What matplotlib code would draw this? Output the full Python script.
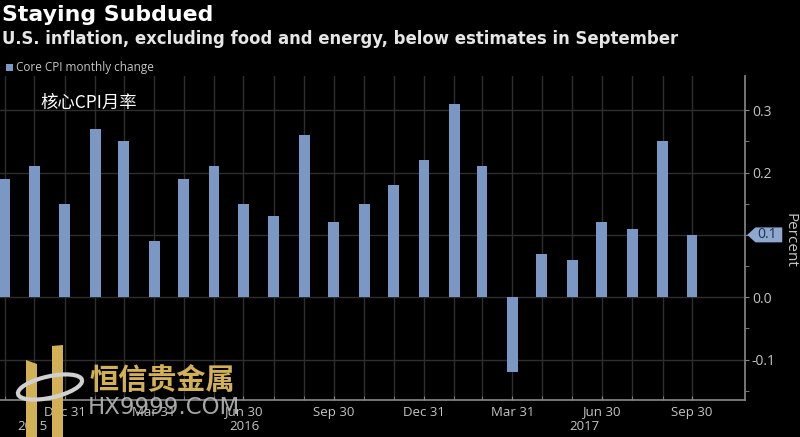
import matplotlib
matplotlib.use('Agg')
import matplotlib.pyplot as plt
import matplotlib.dates as mdates
import pandas as pd
from matplotlib.patches import Polygon, Ellipse, Rectangle

# ---------------- data ----------------
months = ['2015-10', '2015-11', '2015-12', '2016-01', '2016-02', '2016-03',
          '2016-04', '2016-05', '2016-06', '2016-07', '2016-08', '2016-09',
          '2016-10', '2016-11', '2016-12', '2017-01', '2017-02', '2017-03',
          '2017-04', '2017-05', '2017-06', '2017-07', '2017-08', '2017-09']
core_cpi = [0.19, 0.21, 0.15, 0.27, 0.25, 0.09,
            0.19, 0.21, 0.15, 0.13, 0.26, 0.12,
            0.15, 0.18, 0.22, 0.31, 0.21, -0.12,
            0.07, 0.06, 0.12, 0.11, 0.25, 0.10]
xtick_dates = ['2015-12-31', '2016-03-31', '2016-06-30', '2016-09-30',
               '2016-12-31', '2017-03-31', '2017-06-30', '2017-09-30']
xtick_labels = ['Dec 31', 'Mar 31', 'Jun 30', 'Sep 30',
                'Dec 31', 'Mar 31', 'Jun 30', 'Sep 30']
years = ['2015', '2016', '2017']
yticks = [-0.1, 0.0, 0.1, 0.2, 0.3]
ytick_labels = ['-0.1', '0.0', '', '0.2', '0.3']
last_label = '0.1'

title = 'Staying Subdued'
subtitle = 'U.S. inflation, excluding food and energy, below estimates in September'
legend_label = 'Core CPI monthly change'
annotation_cn = '核心CPI月率'
watermark_cn = '恒信贵金属'
watermark_en = 'HX9999.COM'

# ---------------- style ----------------
W, H = 800, 437
BG = '#000000'
BAR = '#7b97c3'
GRID = '#2e2e2e'
TXT = '#c4c4c4'
FONT = ['Open Sans', 'DejaVu Sans']
CJK = ['Noto Sans CJK SC', 'DejaVu Sans']
plt.rcParams['font.family'] = FONT

dates = pd.to_datetime(months) + pd.offsets.MonthEnd(0)

fig = plt.figure(figsize=(W / 100, H / 100), dpi=100, facecolor=BG)
ax = fig.add_axes([0, 1 - 400 / H, 745 / W, (400 - 76) / H], facecolor=BG)

ax.bar(dates, core_cpi, width=11, color=BAR, zorder=3)

ax.set_xlim(pd.Timestamp('2015-10-26'), pd.Timestamp('2017-11-23'))
ax.set_ylim(-0.165, 0.355)

# grid
ax.set_xticks(dates, minor=True)
ax.set_xticks(pd.to_datetime(xtick_dates))
ax.set_xticklabels(xtick_labels)
ax.set_yticks(yticks)
ax.set_yticklabels(ytick_labels)
ax.set_yticks([-0.15, -0.05, 0.05, 0.15, 0.25], minor=True)
ax.grid(True, which='both', axis='x', color=GRID, lw=1, zorder=0)
ax.grid(True, which='major', axis='y', color=GRID, lw=1, zorder=0)

ax.yaxis.tick_right()
for s in ['top', 'left']:
    ax.spines[s].set_visible(False)
for s in ['bottom', 'right']:
    ax.spines[s].set_color('#8a8a8a')
    ax.spines[s].set_linewidth(1.2)
ax.tick_params(axis='x', which='both', direction='in', length=3, color='#8a8a8a',
               labelcolor=TXT, labelsize=9.5, pad=4)
ax.tick_params(axis='y', which='both', direction='out', length=3, color='#8a8a8a',
               labelcolor=TXT, labelsize=10, pad=2)

# year labels centred on visible year spans
xl = ax.get_xlim()
for y in years:
    a = max(mdates.date2num(pd.Timestamp(f'{int(y) - 1}-12-31')), xl[0])
    b = min(mdates.date2num(pd.Timestamp(f'{y}-12-31')), xl[1])
    ax.text((a + b) / 2, -0.083, y, transform=ax.get_xaxis_transform(),
            ha='center', va='center', color=TXT, fontsize=9.5, clip_on=False)

# last value callout on the right axis
yv = core_cpi[-1]
tr = ax.get_yaxis_transform()
hh = 0.012
poly = Polygon([(1.003, yv), (1.014, yv + hh), (1.05, yv + hh),
                (1.05, yv - hh), (1.014, yv - hh)], closed=True,
               transform=tr, facecolor='#8ea8d0', edgecolor='none',
               clip_on=False, zorder=6)
ax.add_patch(poly)
ax.text(1.03, yv, last_label, transform=tr, ha='center', va='center',
        color='#1d3050', fontsize=10, zorder=7, clip_on=False)

fig.text(790 / W, 1 - 240 / H, 'Percent', rotation=270, ha='center', va='center',
         color=TXT, fontsize=11)

# titles and legend
fig.text(2 / W, 1 - 15 / H, title, color='white', fontsize=15.8, fontweight='bold',
         family=['DejaVu Sans'], ha='left', va='center')
fig.text(2 / W, 1 - 39 / H, subtitle, color='#e6e6e6', fontsize=11.9,
         fontweight='bold', family=['DejaVu Sans'], ha='left', va='center')
fig.patches.append(Rectangle((6 / W, 1 - 71 / H), 7 / W, 7 / H, transform=fig.transFigure,
                             facecolor=BAR, edgecolor='none'))
fig.text(16 / W, 1 - 67.5 / H, legend_label, color=TXT, fontsize=8.5,
         ha='left', va='center')

fig.text(40 / W, 1 - 103 / H, annotation_cn, color='white', fontsize=12.5,
         family=CJK, ha='left', va='center')

# watermark
gold = '#d2b055'
def fp(pts):
    return [(x / W, 1 - y / H) for x, y in pts]
fig.patches.append(Polygon(fp([(26, 360), (37, 364), (37, 437), (26, 437)]),
                           transform=fig.transFigure, facecolor=gold, edgecolor='none'))
fig.patches.append(Polygon(fp([(52, 346), (63, 345), (63, 437), (52, 437)]),
                           transform=fig.transFigure, facecolor=gold, edgecolor='none'))
fig.patches.append(Ellipse((50 / W, 1 - 387 / H), 70 / W, 20 / H, angle=28,
                           transform=fig.transFigure, facecolor='none',
                           edgecolor='#d0d0d0', lw=3))
fig.text(90 / W, 1 - 381 / H, watermark_cn, color=gold, fontsize=21,
         fontweight='bold', family=CJK, ha='left', va='center')
fig.text(88 / W, 1 - 408 / H, watermark_en, color='#b8b8b8', fontsize=16.5,
         family=['DejaVu Sans'], ha='left', va='center', alpha=0.9)

fig.savefig('out.png', dpi=100, facecolor=BG)
